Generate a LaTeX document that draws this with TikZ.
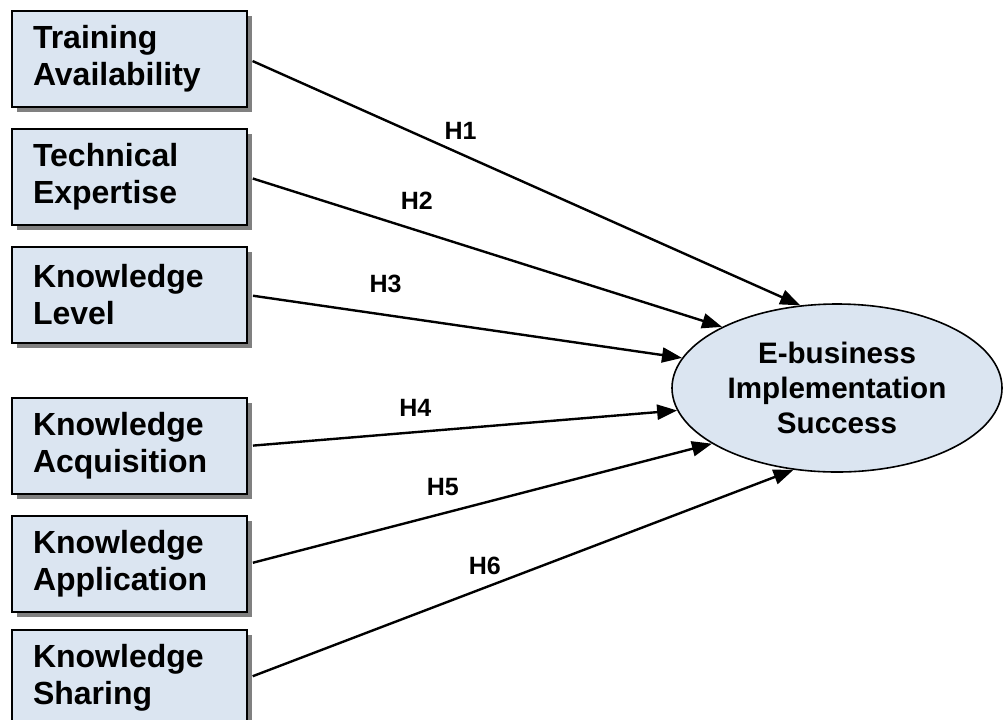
\documentclass[tikz,border=0pt]{standalone}
\usepackage{fontspec}
\setmainfont{Liberation Sans}
\usepackage{tikz}
\usetikzlibrary{shapes}
\usetikzlibrary{positioning}
\usetikzlibrary{arrows.meta}
\usetikzlibrary{shadows}
\definecolor{factorfill}{RGB}{219,229,241}
\tikzstyle{factor} = [draw,line width=1pt,fill=factorfill,rectangle,align=left,text width=96.5pt,inner xsep=10.5pt,minimum height=48pt,font=\fontsize{16}{18.5}\selectfont\bfseries,drop shadow={shadow xshift=2.5pt,shadow yshift=-2.5pt,fill=black!50,opacity=1}]
\tikzstyle{outcome} = [ellipse,draw,thick,fill=factorfill,align=center,inner sep=0pt,minimum width=165pt,minimum height=84pt,font=\fontsize{14.8}{17.5}\selectfont\bfseries]

\begin{document}
\begin{tikzpicture}
	[x=0.5pt,y=-0.5pt,node distance=10pt,font=\fontsize{12.5}{15}\selectfont\bfseries]
	\tikzstyle{arrow}=[-{Triangle[length=10pt,width=7.5pt]},line width=1.2pt,shorten <=2.5pt];
	\useasboundingbox (0,0) rectangle (1005,719);
	\node (1) [factor] at (129.5,59) {Training\\Availability};
	\node (2) [factor,below=of 1] {Technical\\Expertise};
	\node (3) [factor,below=of 2] {Knowledge\\Level};
	\node (4) [factor,below=26.5pt of 3] {Knowledge\\Acquisition};
	\node (5) [factor,below=of 4] {Knowledge\\Application};
	\node (6) [factor,below=8pt of 5] {Knowledge\\Sharing};
	\node (7) [outcome] at (837,388) {E-business\\Implementation\\Success};
	\path[arrow]
		(1.east) edge node[pos=0.385,above=3.2pt] {H1} (7.114)
		(2.east) edge node[pos=0.356,above=6.7pt] {H2} (7.152.6)
		(3.east) edge node[pos=0.317,above=7.2pt] {H3} (7.169.7)
		(4.east) edge node[pos=0.39,above=3.7pt] {H4} (7.188.9)
		(5.east) edge node[pos=0.42,above=4.7pt] {H5} (7.204.8)
		(6.east) edge node[pos=0.434,above=2.7pt] {H6} (7.242.9);
\end{tikzpicture}
\end{document}
